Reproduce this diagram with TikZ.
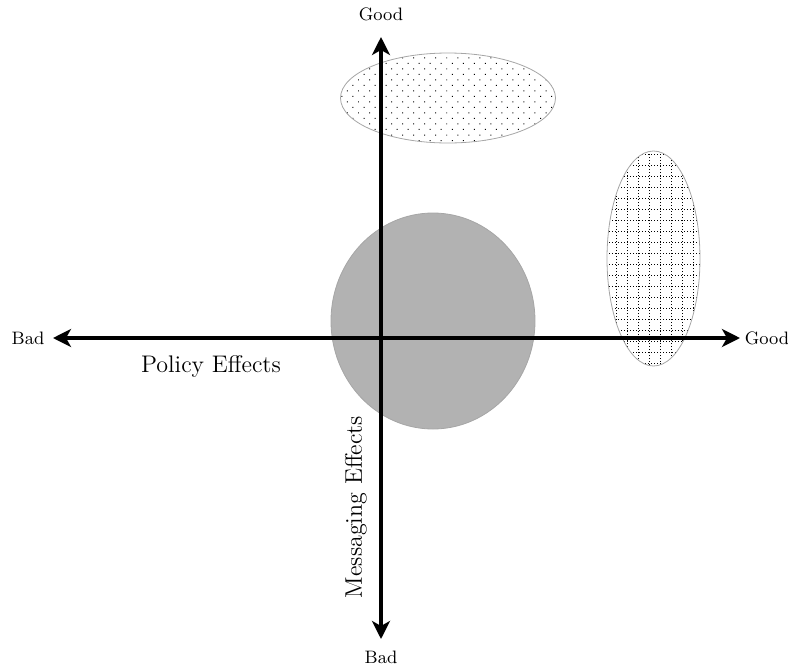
\documentclass[tikz,border=0pt]{standalone}
\usetikzlibrary{arrows.meta,patterns.meta}

\begin{document}
\begin{tikzpicture}[x=0.5pt,y=-0.5pt,
  >={Stealth[length=9pt,width=9pt,inset=2.5pt]},
  axis/.style={<->,line width=2pt},
  blob/.style={draw=black!35,line width=0.4pt},
  lbl/.style={font=\small,inner sep=0pt}]
\useasboundingbox (0,0) rectangle (788,670);
% regions
\draw[blob,pattern={Dots[angle=45,distance=3.9pt,radius=0.35pt]}] (448,98) ellipse [x radius=53.75pt,y radius=22.5pt];
\begin{scope}
  \clip (653.5,258.5) ellipse [x radius=23.25pt,y radius=53.75pt];
  \draw[densely dotted,line width=0.5pt] (600,143) grid[step=5.5pt] (710,374);
\end{scope}
\draw[blob] (653.5,258.5) ellipse [x radius=23.25pt,y radius=53.75pt];
\draw[blob,fill=black!30] (433,321) ellipse [x radius=51pt,y radius=54pt];
% axes
\coordinate (xneg) at (53,338);
\coordinate (xpos) at (740,338);
\coordinate (ypos) at (381,37);
\coordinate (yneg) at (381,639);
\draw[axis] (xneg) -- (xpos);
\draw[axis] (yneg) -- (ypos);
\node[lbl] (badL) at (28,338) {Bad};
\node[lbl] (goodR) at (767,338) {Good};
\node[lbl] (goodT) at (381,14) {Good};
\node[lbl] (badB) at (381,657) {Bad};
\node[font=\large] (policy) at (211,366) {Policy Effects};
\node[font=\large,rotate=90] (messaging) at (356,507) {Messaging Effects};
\end{tikzpicture}
\end{document}
